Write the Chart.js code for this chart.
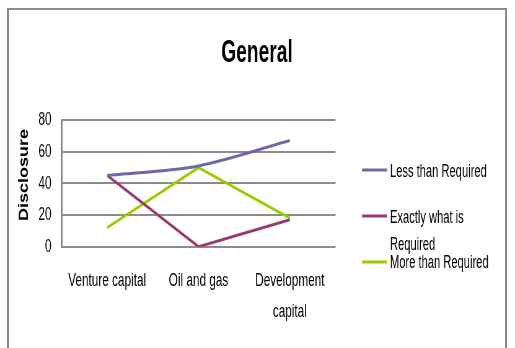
<!DOCTYPE html>
<html>
<head>
<meta charset="utf-8">
<script src="https://cdn.jsdelivr.net/npm/chart.js@4/dist/chart.umd.min.js"></script>
<style>
  html, body { margin: 0; padding: 0; background: #ffffff; overflow: hidden; }
  #wrap { position: relative; width: 515px; height: 348px; overflow: hidden; background: #ffffff; }
  #frame { position: absolute; left: 7px; top: 8px; width: 500px; height: 360px; border: 2px solid #8a8a8a; box-sizing: border-box; }
  #c { position: absolute; left: 0; top: 0; transform-origin: 0 0; }
</style>
</head>
<body>
<div id="wrap">
  <div id="frame"></div>
  <canvas id="c" width="831" height="348"></canvas>
</div>
<script>
// Chart content
const chartTitle = 'General';
const yAxisTitle = 'Disclosure';
const categories = ['Venture capital', 'Oil and gas', ['Development', 'capital']];
const lessThanRequired = [45, 51, 67];
const exactlyWhatIsRequired = [45, 0, 17];
const moreThanRequired = [12, 50, 18];
const yMin = 0;
const yMax = 80;
const yStep = 20;
const seriesNames = ['Less than Required', ['Exactly what is', 'Required'], 'More than Required'];
const seriesColors = ['#6a6aa8', '#9b3a6a', '#99cc00'];

// The drawing is made on a wider canvas and narrowed horizontally to the page width
const PAGE_W = 515;
const CANVAS_W = 831;
const SX = PAGE_W / CANVAS_W;
const canvas = document.getElementById('c');
canvas.style.transform = 'scaleX(' + SX + ')';

const SANS = '"Liberation Sans", Arial, sans-serif';
const px = x => x / SX; // page x -> canvas x

const textPlugin = {
  id: 'chartTexts',
  afterDraw(chart) {
    const ctx = chart.ctx;
    ctx.save();
    ctx.fillStyle = '#000000';
    ctx.font = 'bold 31px ' + SANS;
    ctx.textAlign = 'center';
    ctx.textBaseline = 'alphabetic';
    ctx.fillText(chartTitle, px(257), 62);
    ctx.restore();

    // vertical axis title, a little heavier across than the narrowed canvas gives
    ctx.save();
    ctx.translate(px(24), 175);
    ctx.rotate(-Math.PI / 2);
    ctx.scale(1, 1.25);
    ctx.fillStyle = '#000000';
    ctx.font = 'bold 18px ' + SANS;
    ctx.textAlign = 'center';
    ctx.textBaseline = 'middle';
    ctx.fillText(yAxisTitle, 0, 0);
    ctx.restore();
  }
};

const legendPlugin = {
  id: 'sideLegend',
  afterDraw(chart) {
    const ctx = chart.ctx;
    const rows = [
      { line: 170, base: [177] },
      { line: 216, base: [223, 250] },
      { line: 262, base: [268] }
    ];
    ctx.save();
    chart.data.datasets.forEach((ds, i) => {
      const r = rows[i];
      ctx.strokeStyle = ds.borderColor;
      ctx.lineWidth = 3;
      ctx.beginPath();
      ctx.moveTo(px(362), r.line);
      ctx.lineTo(px(387), r.line);
      ctx.stroke();
      ctx.fillStyle = '#000000';
      ctx.font = '18px ' + SANS;
      ctx.textAlign = 'left';
      ctx.textBaseline = 'alphabetic';
      const lines = Array.isArray(seriesNames[i]) ? seriesNames[i] : [seriesNames[i]];
      lines.forEach((t, k) => ctx.fillText(t, px(390), r.base[k]));
    });
    ctx.restore();
  }
};

const datasets = [
  { label: 'Less than Required', data: lessThanRequired, borderColor: seriesColors[0], tension: 0.3 },
  { label: 'Exactly what is Required', data: exactlyWhatIsRequired, borderColor: seriesColors[1], tension: 0 },
  { label: 'More than Required', data: moreThanRequired, borderColor: seriesColors[2], tension: 0 }
].map(d => Object.assign(d, {
  backgroundColor: d.borderColor,
  borderWidth: 3,
  pointRadius: 0,
  pointHoverRadius: 0,
  fill: false
}));

new Chart(canvas, {
  type: 'line',
  data: { labels: categories, datasets: datasets },
  options: {
    responsive: false,
    animation: false,
    devicePixelRatio: 1,
    layout: { padding: { left: 0, top: 120, right: CANVAS_W - px(335.5), bottom: 0 } },
    plugins: {
      legend: { display: false },
      title: { display: false },
      tooltip: { enabled: false }
    },
    scales: {
      x: {
        offset: true,
        grid: { display: false, drawTicks: false },
        border: { display: false },
        ticks: {
          color: '#000000',
          padding: 19,
          maxRotation: 0,
          autoSkip: false,
          font: { family: SANS, size: 19, lineHeight: 1.63 }
        },
        afterFit(scale) { scale.height = 348 - 246.7; }
      },
      y: {
        min: yMin,
        max: yMax,
        grid: { color: '#8c8c8c', lineWidth: 2, drawTicks: false },
        border: { display: true, color: '#8c8c8c', width: 3 },
        ticks: {
          stepSize: yStep,
          color: '#000000',
          padding: px(10),
          font: { family: SANS, size: 19 }
        },
        afterFit(scale) { scale.width = px(61.5); }
      }
    }
  },
  plugins: [textPlugin, legendPlugin]
});
</script>
</body>
</html>
